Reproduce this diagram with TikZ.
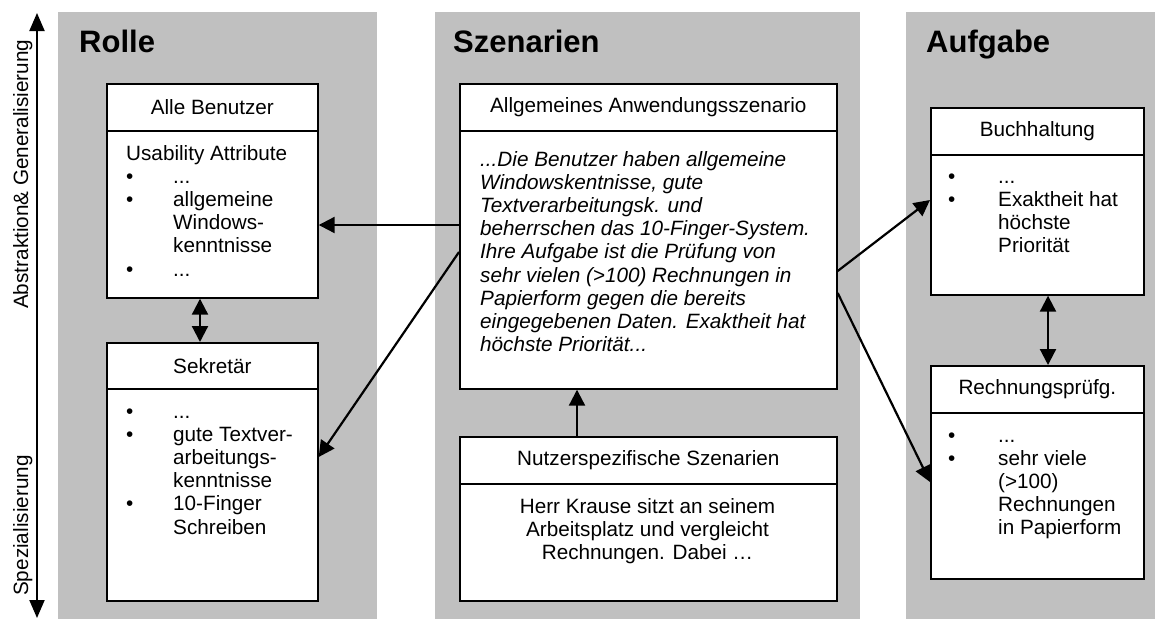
\documentclass[tikz,border=0pt]{standalone}
\usepackage{fontspec}
\setmainfont{Liberation Sans}
\usetikzlibrary{arrows.meta}
\definecolor{panelgray}{RGB}{192,192,192}
\newcommand\bodyfs{\fontsize{20.7}{23.2}\selectfont}
\newcommand\titlefs{\fontsize{31}{36}\selectfont\bfseries}
\newcommand\bulA[1]{\makebox[47pt][l]{\textbullet}#1}
\newcommand\indA{\hspace*{47pt}}
\newcommand\bulB[1]{\makebox[50pt][l]{\textbullet}#1}
\newcommand\indB{\hspace*{50pt}}
\begin{document}
\begin{tikzpicture}[x=1pt,y=-1pt,
  panel/.style={fill=panelgray,draw=none},
  title/.style={anchor=base west,inner sep=0pt,font=\titlefs},
  hdr/.style={draw,line width=1.7pt,fill=white,inner sep=0pt,anchor=north west,font=\bodyfs},
  bodybox/.style={draw,line width=1.7pt,fill=white,inner sep=0pt,anchor=north west},
  txt/.style={anchor=base west,inner sep=0pt,font=\bodyfs},
  arr/.style={line width=2.2pt,-{Triangle[length=16pt,width=16pt]}},
  dbl/.style={line width=2.2pt,{Triangle[length=16pt,width=16pt]}-{Triangle[length=16pt,width=16pt]}},
  axarr/.style={line width=2pt,{Triangle[length=18pt,width=15pt]}-{Triangle[length=18pt,width=15pt]}}
]
\useasboundingbox (0,0) rectangle (1155,619);
\fill[white] (0,0) rectangle (1155,619);

% panels
\fill[panel] (58,12) rectangle (377,619);
\fill[panel] (435,12) rectangle (860,619);
\fill[panel] (906,12) rectangle (1155,619);

% titles
\node[title] (trolle) at (79,52) {Rolle};
\node[title] (tszen) at (453,52) {Szenarien};
\node[title] (taufg) at (926,52) {Aufgabe};

% axis
\coordinate (axtop) at (37,13);
\coordinate (axbot) at (37,618);
\draw[axarr] (axbot) -- (axtop);
\node[txt,rotate=90] (labA) at (28,309) {Abstraktion\& Generalisierung};
\node[txt,rotate=90] (labS) at (28,596) {Spezialisierung};

% Rolle column
\node[bodybox,minimum width=211pt,minimum height=167pt] (abb) at (106,130) {};
\node[hdr,minimum width=211pt,minimum height=47pt] (abh) at (106,83) {Alle Benutzer};
\node[txt] (abt) at (126,160) {\parbox[t]{200pt}{\raggedright Usability Attribute\\
\bulA{...}\\ \bulA{allgemeine}\\ \indA Windows-\\ \indA kenntnisse\\ \bulA{...}}};

\node[bodybox,minimum width=211pt,minimum height=212pt] (sekb) at (106,388) {};
\node[hdr,minimum width=211pt,minimum height=46pt] (sekh) at (106,342) {Sekretär};
\node[txt] (sekt) at (126,418) {\parbox[t]{200pt}{\raggedright
\bulA{...}\\ \bulA{gute Textver-}\\ \indA arbeitungs-\\ \indA kenntnisse\\ \bulA{10-Finger}\\ \indA Schreiben}};

% Szenarien column
\node[bodybox,minimum width=377pt,minimum height=258pt] (szb) at (459,130) {};
\node[hdr,minimum width=377pt,minimum height=47pt] (szh) at (459,83) {Allgemeines Anwendungsszenario};
\node[txt] (szt) at (480,166) {\parbox[t]{350pt}{\raggedright\itshape
...Die Benutzer haben allgemeine\\
Windowskentnisse, gute\\
Textverarbeitungsk. und\\
beherrschen das 10-Finger-System.\\
Ihre Aufgabe ist die Prüfung von\\
sehr vielen (>100) Rechnungen in\\
Papierform gegen die bereits\\
eingegebenen Daten. Exaktheit hat\\
höchste Priorität...}};

\node[bodybox,minimum width=377pt,minimum height=117pt] (nzb) at (459,483) {};
\node[hdr,minimum width=377pt,minimum height=47pt] (nzh) at (459,436) {Nutzerspezifische Szenarien};
\node[txt,anchor=base] (nzt) at (647.5,513) {\parbox[t]{350pt}{\centering
Herr Krause sitzt an seinem\\ Arbeitsplatz und vergleicht\\ Rechnungen. Dabei …}};

% Aufgabe column
\node[bodybox,minimum width=213pt,minimum height=140pt] (bub) at (930,154) {};
\node[hdr,minimum width=213pt,minimum height=47pt] (buh) at (930,107) {Buchhaltung};
\node[txt] (but) at (948,183) {\parbox[t]{190pt}{\raggedright
\bulB{...}\\ \bulB{Exaktheit hat}\\ \indB höchste\\ \indB Priorität}};

\node[bodybox,minimum width=213pt,minimum height=166pt] (reb) at (930,412) {};
\node[hdr,minimum width=213pt,minimum height=47pt] (reh) at (930,365) {Rechnungsprüfg.};
\node[txt] (ret) at (948,442) {\parbox[t]{190pt}{\raggedright
\bulB{...}\\ \bulB{sehr viele}\\ \indB (>100)\\ \indB Rechnungen\\ \indB in Papierform}};

% connectors
\draw[dbl] (abb.south -| 200,0) -- (sekh.north -| 200,0);
\draw[dbl] (bub.south -| 1048,0) -- (reh.north -| 1048,0);
\draw[arr] (szb.west |- 0,225) -- (abb.east |- 0,225);
\draw[arr] (szb.west |- 0,252) -- (sekb.east |- 0,457);
\draw[arr] (nzh.north -| 577,0) -- (szb.south -| 577,0);
\draw[arr] (szb.east |- 0,271) -- (bub.west |- 0,200);
\draw[arr] (szb.east |- 0,293) -- (reb.west |- 0,482);
\end{tikzpicture}
\end{document}
